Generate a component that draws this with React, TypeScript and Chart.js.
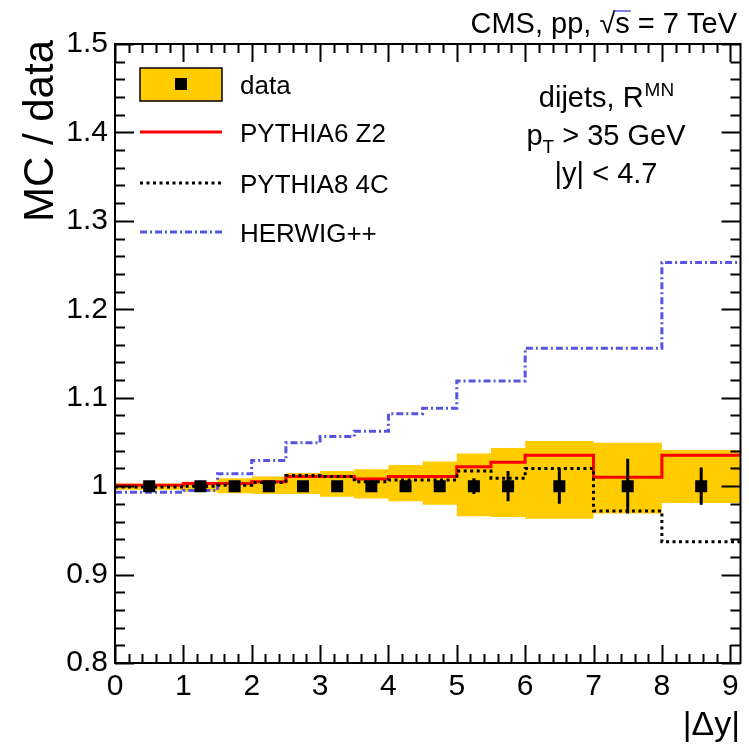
import React, { useEffect, useRef } from "react";
import { Chart, registerables } from "chart.js";
Chart.register(...registerables);

// |Δy| bin edges and data-point positions
const binEdges = [0, 1, 1.5, 2, 2.5, 3, 3.5, 4, 4.5, 5, 5.5, 6, 7, 8, 9.15];
const dataX = [0.5, 1.25, 1.75, 2.25, 2.75, 3.25, 3.75, 4.25, 4.75, 5.25, 5.75, 6.5, 7.5, 8.575];
const dataRatio = [1, 1, 1, 1, 1, 1, 1, 1, 1, 1, 1, 1, 1, 1];
const dataStatErr = [0.001, 0.001, 0.001, 0.001, 0.001, 0.001, 0.002, 0.002, 0.004, 0.009, 0.017, 0.02, 0.031, 0.021];
// total uncertainty band (upper / lower edge)
const bandHigh = [1.003, 1.005, 1.009, 1.011, 1.015, 1.017, 1.019, 1.024, 1.028, 1.037, 1.043, 1.051, 1.049, 1.041];
const bandLow = [0.996, 0.994, 0.992, 0.991, 0.991, 0.988, 0.986, 0.983, 0.979, 0.966, 0.965, 0.963, 0.969, 0.981];
// MC / data
const pythia6Z2 = [1.001, 1.003, 1.003, 1.005, 1.011, 1.011, 1.008, 1.011, 1.011, 1.022, 1.027, 1.035, 1.01, 1.035];
const pythia84C = [0.999, 1.0, 1.001, 1.004, 1.012, 1.011, 1.005, 1.007, 1.007, 1.017, 1.009, 1.02, 0.972, 0.937];
const herwigPP = [0.993, 0.995, 1.014, 1.029, 1.049, 1.056, 1.062, 1.082, 1.088, 1.119, 1.119, 1.156, 1.156, 1.253];

const xTickLabels = [0, 1, 2, 3, 4, 5, 6, 7, 8, 9];
const yTickLabels = [0.8, 0.9, 1.0, 1.1, 1.2, 1.3, 1.4, 1.5];
const legendLabels = ["data", "PYTHIA6 Z2", "PYTHIA8 4C", "HERWIG++"];

const FONT = '"Liberation Sans", Arial, Helvetica, sans-serif';
const RED = "#ff0000";
const BLUE = "rgb(85,85,225)";
const BAND = "#ffcc00";
const DOT_DASH = [3, 3.5];
const DASH_DOT = [7, 3, 2, 3];

const hist = (vals: number[]) =>
  vals.flatMap((v, i) => [
    { x: binEdges[i], y: v },
    { x: binEdges[i + 1], y: v },
  ]);

const decorPlugin = {
  id: "decor",
  afterDatasetsDraw(chart: any) {
    const { ctx, scales } = chart;
    const x = scales.x, y = scales.y;
    ctx.save();
    ctx.strokeStyle = "#000";
    ctx.lineWidth = 3;
    ctx.beginPath();
    dataX.forEach((xv, i) => {
      const px = x.getPixelForValue(xv);
      ctx.moveTo(px, y.getPixelForValue(dataRatio[i] - dataStatErr[i]));
      ctx.lineTo(px, y.getPixelForValue(dataRatio[i] + dataStatErr[i]));
    });
    ctx.stroke();
    ctx.restore();
  },
  afterDraw(chart: any) {
    const { ctx, chartArea: a, scales } = chart;
    const x = scales.x, y = scales.y;
    ctx.save();
    // frame
    ctx.strokeStyle = "#000";
    ctx.lineWidth = 2;
    ctx.strokeRect(a.left, a.top, a.right - a.left, a.bottom - a.top);
    // inner ticks
    ctx.beginPath();
    for (let k = 0; k * 0.2 <= x.max + 1e-9; k++) {
      const px = Math.round(x.getPixelForValue(k * 0.2)) + 0.5;
      const len = k % 5 === 0 ? 18 : 9;
      ctx.moveTo(px, a.bottom);
      ctx.lineTo(px, a.bottom - len);
      ctx.moveTo(px, a.top);
      ctx.lineTo(px, a.top + len);
    }
    for (let k = 40; k <= 75; k++) {
      const py = Math.round(y.getPixelForValue(k * 0.02)) + 0.5;
      const len = k % 5 === 0 ? 19 : 10;
      ctx.moveTo(a.left, py);
      ctx.lineTo(a.left + len, py);
      ctx.moveTo(a.right, py);
      ctx.lineTo(a.right - len, py);
    }
    ctx.stroke();

    ctx.fillStyle = "#000";
    // legend
    const lx0 = 140, lx1 = 222, tx = 240;
    const rows = [84, 132, 183, 232];
    ctx.fillStyle = BAND;
    ctx.fillRect(lx0, 68, lx1 - lx0, 33);
    ctx.lineWidth = 1.5;
    ctx.strokeStyle = "#000";
    ctx.strokeRect(lx0, 68, lx1 - lx0, 33);
    ctx.fillStyle = "#000";
    ctx.fillRect((lx0 + lx1) / 2 - 6, rows[0] - 6, 12, 12);
    const lineStyles: [string, number[]][] = [[RED, []], ["#000", DOT_DASH], [BLUE, DASH_DOT]];
    lineStyles.forEach(([c, d], i) => {
      ctx.beginPath();
      ctx.strokeStyle = c;
      ctx.lineWidth = 3;
      ctx.setLineDash(d);
      ctx.moveTo(lx0, rows[i + 1]);
      ctx.lineTo(lx1, rows[i + 1]);
      ctx.stroke();
    });
    ctx.setLineDash([]);
    ctx.font = `26px ${FONT}`;
    ctx.textAlign = "left";
    ctx.textBaseline = "alphabetic";
    legendLabels.forEach((t, i) => ctx.fillText(t, tx, rows[i] + 9.5));

    // top-right CMS label
    ctx.font = `29px ${FONT}`;
    const full = "CMS, pp, \u221As = 7 TeV";
    const w = ctx.measureText(full).width;
    const left = 737 - w;
    ctx.fillText(full, left, 33);
    const sStart = left + ctx.measureText("CMS, pp, \u221A").width;
    const sEnd = sStart + ctx.measureText("s").width;
    ctx.lineWidth = 1.5;
    ctx.beginPath();
    ctx.moveTo(sStart - 1, 33 - 22);
    ctx.lineTo(sEnd + 1, 33 - 22);
    ctx.stroke();

    // selection text
    const cx = 606;
    const f = 29, fs = 19;
    // dijets, R^MN
    ctx.font = `${f}px ${FONT}`;
    const t1 = "dijets, R";
    const w1 = ctx.measureText(t1).width;
    ctx.font = `${fs}px ${FONT}`;
    const w1s = ctx.measureText("MN").width;
    let sx = cx - (w1 + w1s) / 2;
    ctx.font = `${f}px ${FONT}`;
    ctx.fillText(t1, sx, 107);
    ctx.font = `${fs}px ${FONT}`;
    ctx.fillText("MN", sx + w1 + 1, 96);
    // p_T > 35 GeV
    ctx.font = `${f}px ${FONT}`;
    const wp = ctx.measureText("p").width;
    const rest = " > 35 GeV";
    const wr = ctx.measureText(rest).width;
    ctx.font = `${fs}px ${FONT}`;
    const wt = ctx.measureText("T").width;
    sx = cx - (wp + wt + wr) / 2;
    ctx.font = `${f}px ${FONT}`;
    ctx.fillText("p", sx, 145);
    ctx.fillText(rest, sx + wp + wt, 145);
    ctx.font = `${fs}px ${FONT}`;
    ctx.fillText("T", sx + wp, 153);
    // |y| < 4.7
    ctx.font = `${f}px ${FONT}`;
    ctx.textAlign = "center";
    ctx.fillText("|y| < 4.7", cx, 183);

    // axis titles
    ctx.font = `34px ${FONT}`;
    ctx.textAlign = "right";
    ctx.fillText("|\u0394y|", 740, 735);
    ctx.save();
    ctx.translate(53, 40);
    ctx.rotate(-Math.PI / 2);
    ctx.font = `42px ${FONT}`;
    ctx.textAlign = "right";
    ctx.fillText("MC / data", 0, 0);
    ctx.restore();
    ctx.restore();
  },
};

export default function App() {
  const ref = useRef<HTMLCanvasElement>(null);
  useEffect(() => {
    if (!ref.current) return;
    const chart = new Chart(ref.current, {
      type: "line",
      data: {
        datasets: [
          {
            label: "bandHigh",
            data: hist(bandHigh),
            borderColor: "rgba(0,0,0,0)",
            borderWidth: 0,
            backgroundColor: BAND,
            fill: "+1",
            pointRadius: 0,
            order: 10,
          },
          {
            label: "bandLow",
            data: hist(bandLow),
            borderColor: "rgba(0,0,0,0)",
            borderWidth: 0,
            fill: false,
            pointRadius: 0,
            order: 9,
          },
          {
            label: "HERWIG++",
            data: hist(herwigPP),
            borderColor: BLUE,
            borderWidth: 3,
            borderDash: DASH_DOT,
            fill: false,
            pointRadius: 0,
            order: 5,
          },
          {
            label: "PYTHIA6 Z2",
            data: hist(pythia6Z2),
            borderColor: RED,
            borderWidth: 3,
            fill: false,
            pointRadius: 0,
            order: 4,
          },
          {
            label: "PYTHIA8 4C",
            data: hist(pythia84C),
            borderColor: "#000",
            borderWidth: 3,
            borderDash: DOT_DASH,
            fill: false,
            pointRadius: 0,
            order: 3,
          },
          {
            label: "data",
            data: dataX.map((xv, i) => ({ x: xv, y: dataRatio[i] })),
            showLine: false,
            pointStyle: "rect",
            pointRadius: 8.5,
            pointBorderWidth: 0,
            pointBackgroundColor: "#000",
            borderColor: "#000",
            order: 1,
          },
        ],
      },
      options: {
        responsive: false,
        animation: false,
        events: [],
        layout: { padding: { top: 44, right: 7, left: 0, bottom: 0 } },
        plugins: { legend: { display: false }, tooltip: { enabled: false } },
        scales: {
          x: {
            type: "linear",
            min: 0,
            max: 9.15,
            grid: { display: false, drawTicks: false },
            border: { display: false },
            afterBuildTicks: (s: any) => {
              s.ticks = xTickLabels.map((v) => ({ value: v }));
            },
            afterFit: (s: any) => {
              s.height = 84;
            },
            ticks: {
              padding: 6,
              maxRotation: 0,
              autoSkip: false,
              color: "#000",
              font: { family: FONT, size: 30 },
              callback: (v: any) => String(v),
            },
          },
          y: {
            type: "linear",
            min: 0.8,
            max: 1.5,
            grid: { display: false, drawTicks: false },
            border: { display: false },
            afterBuildTicks: (s: any) => {
              s.ticks = yTickLabels.map((v) => ({ value: v }));
            },
            afterFit: (s: any) => {
              s.width = 115;
            },
            ticks: {
              padding: 7,
              autoSkip: false,
              color: "#000",
              font: { family: FONT, size: 30 },
              callback: (v: any) => String(Math.round(Number(v) * 10) / 10),
            },
          },
        },
      },
      plugins: [decorPlugin],
    } as any);
    return () => chart.destroy();
  }, []);
  return (
    <div style={{ position: "fixed", left: 0, top: 0, width: 749, height: 747, background: "#fff" }}>
      <canvas ref={ref} width={749} height={747} />
    </div>
  );
}
